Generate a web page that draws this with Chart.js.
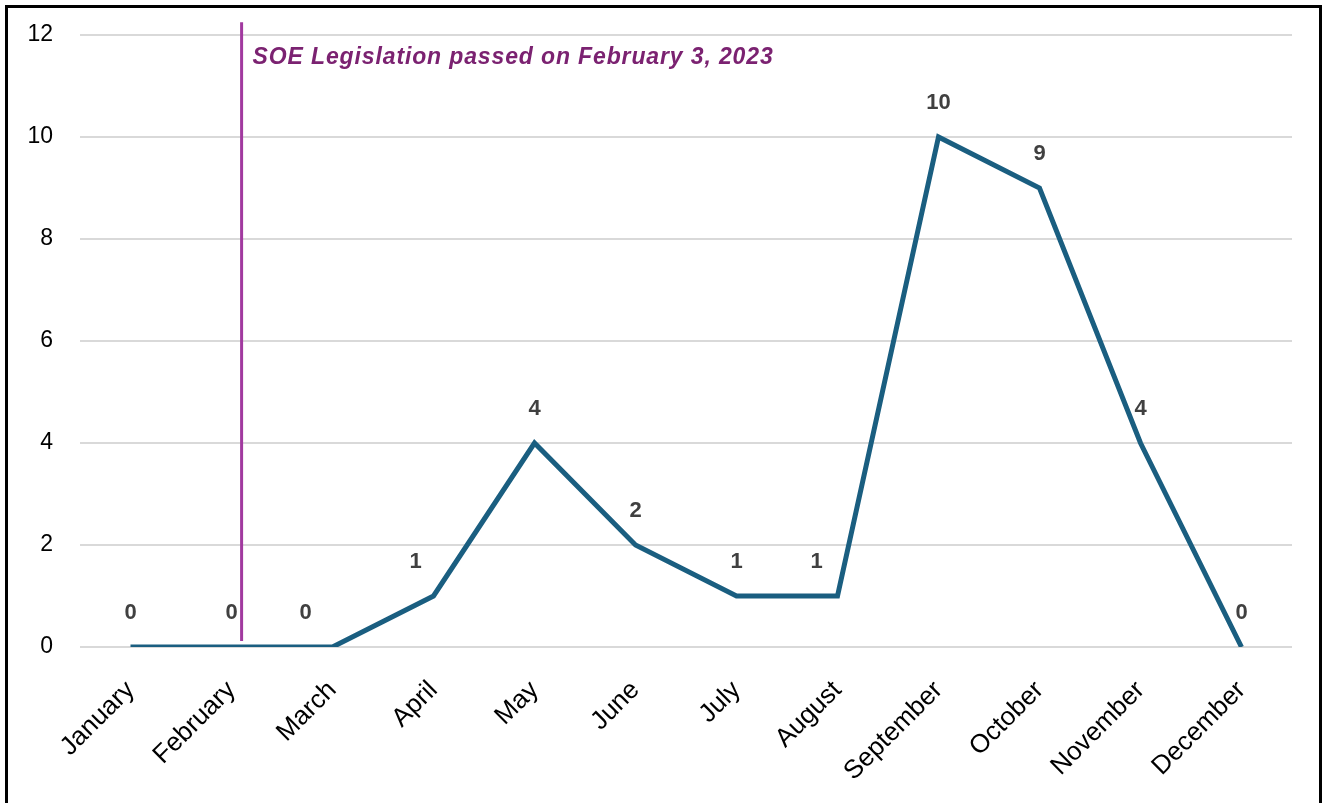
<!DOCTYPE html>
<html>
<head>
<meta charset="utf-8">
<script src="https://cdn.jsdelivr.net/npm/chart.js@4.4.1/dist/chart.umd.min.js"></script>
<style>
  html, body { margin: 0; padding: 0; background: #fff; }
  #wrap { position: relative; width: 1324px; height: 803px; }
  #frame {
    position: absolute; left: 5px; top: 5px; width: 1311px; height: 796px;
    border-left: 3px solid #000; border-top: 3px solid #000; border-right: 3px solid #000;
    border-bottom: 1px solid #999; pointer-events: none;
  }
</style>
</head>
<body>
<div id="wrap">
  <canvas id="soe_chart" width="1324" height="803"></canvas>
  <div id="frame"></div>
</div>
<script>
var months = ["January", "February", "March", "April", "May", "June", "July",
              "August", "September", "October", "November", "December"];
var cases = [0, 0, 0, 1, 4, 2, 1, 1, 10, 9, 4, 0];
var y_ticks = [0, 2, 4, 6, 8, 10, 12];
var event_text = "SOE Legislation passed on February 3, 2023";
var event_pos = 1.1; // a bit after February on the category scale

// small sideways nudges of the value labels, the way the original sits them
var label_dx = [0, 0, -27, -18, 0, 0, 0, -21, 0, 0, 0, 0];
var FONT = "'Liberation Sans', Arial, sans-serif";

//********************************************** */
const valueLabels = {
    id: "valueLabels",
    afterDatasetsDraw(chart){
        const ctx = chart.ctx;
        const meta = chart.getDatasetMeta(0);
        ctx.save();
        ctx.font = "bold 22px " + FONT;
        ctx.fillStyle = "#404040";
        ctx.textAlign = "center";
        ctx.textBaseline = "middle";
        meta.data.forEach(function(pt, i){
            ctx.fillText(String(cases[i]), pt.x + label_dx[i], pt.y - 34);
        });
        ctx.restore();
    }
};
//********************************************** */
const eventLine = {
    id: "eventLine",
    afterDatasetsDraw(chart){
        const ctx = chart.ctx;
        const xs = chart.scales.x, ys = chart.scales.y;
        const step = xs.getPixelForValue(1) - xs.getPixelForValue(0);
        const x = xs.getPixelForValue(1) + (event_pos - 1) * step;
        ctx.save();
        ctx.strokeStyle = "#a1399f";
        ctx.lineWidth = 3;
        ctx.beginPath();
        ctx.moveTo(x, ys.getPixelForValue(12.25));
        ctx.lineTo(x, ys.getPixelForValue(0.12));
        ctx.stroke();
        ctx.font = "italic bold 23px " + FONT;
        // stretch the text a little, the original face runs wider
        const w = ctx.measureText(event_text).width;
        ctx.letterSpacing = ((521 - w) / event_text.length).toFixed(2) + "px";
        ctx.fillStyle = "#7b2271";
        ctx.textAlign = "left";
        ctx.textBaseline = "middle";
        ctx.fillText(event_text, x + 11, ys.getPixelForValue(11.55));
        ctx.restore();
    }
};
//********************************************** */
const soe_chart = new Chart("soe_chart", {
    type: "line",
    data: {
        labels: months,
        datasets: [{
            data: cases,
            borderColor: "#1a5e80",
            borderWidth: 5,
            pointRadius: 0,
            tension: 0,
            borderJoinStyle: "miter",
        }],
    },
    options: {
        responsive: false,
        animation: false,
        layout: {padding: {top: 35, right: 32, left: 0, bottom: 0}},
        plugins: {legend: {display: false}, tooltip: {enabled: false}},
        scales: {
            x: {
                offset: true,
                grid: {display: false, drawTicks: false},
                border: {display: false},
                ticks: {
                    color: "#000",
                    font: {family: FONT, size: 26},
                    maxRotation: 45, minRotation: 45,
                    padding: 28,
                    autoSkip: false,
                },
                afterFit(scale){ scale.height = 156; },
            },
            y: {
                min: 0, max: 12,
                afterBuildTicks(scale){ scale.ticks = y_ticks.map(v => ({value: v})); },
                grid: {color: "#d9d9d9", lineWidth: 2, drawTicks: false},
                border: {display: false},
                ticks: {
                    color: "#000",
                    font: {family: FONT, size: 23},
                    padding: 27,
                },
                afterFit(scale){
                    scale.width = 80;
                    // the tick padding should not push the plot top down
                    scale.paddingTop = 0;
                    scale.paddingBottom = 0;
                },
            },
        },
    },
    plugins: [eventLine, valueLabels],
});
</script>
</body>
</html>
